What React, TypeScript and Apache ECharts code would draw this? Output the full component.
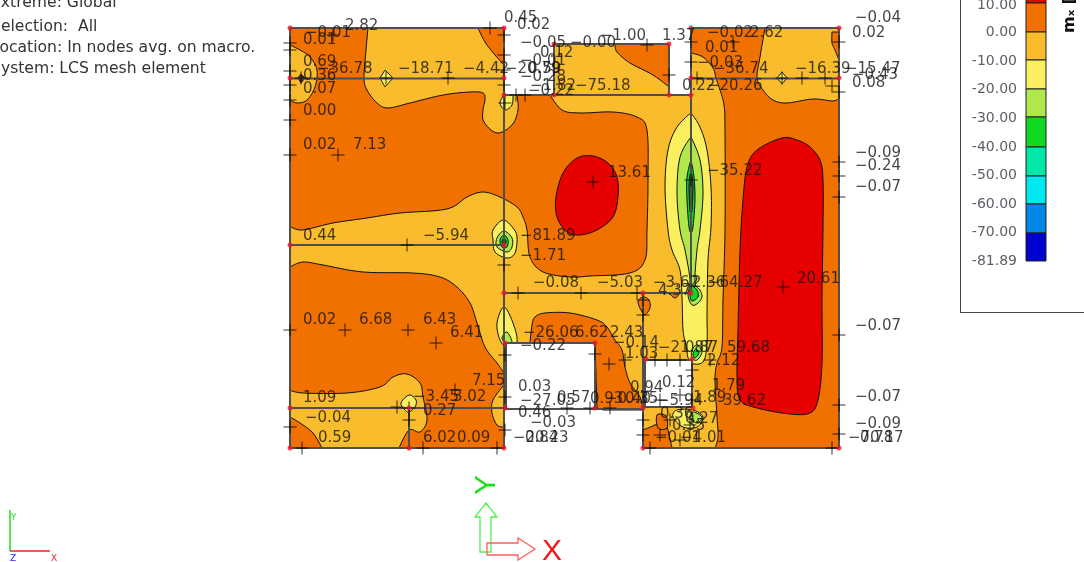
import React, { useEffect, useRef } from "react";
import * as echarts from "echarts";

type Pt = number[]; // [x, y, corner?]

const C = {
  red: "#E60000", dark: "#F07000", light: "#F8BC2C", yellow: "#F9EF5F", lime: "#B0E84C",
  green: "#10D820", teal: "#00E8A8", cyan: "#00E8F0", blue: "#0088E8", navy: "#0000D0",
};

// Structure outline and openings, in drawing units
const structure: Pt[] = [[290,28,1],[504,28,1],[504,95,1],[554,95,1],[554,44,1],[669,44,1],[669,95,1],[691,95,1],[691,28,1],[839,28,1],[839,448,1],[643,448,1],[643,410,1],[504,410,1],[504,448,1],[290,448,1]];
const hole1: Pt[] = [[505,343,1],[595,343,1],[595,408,1],[505,408,1]];
const hole2: Pt[] = [[645,360,1],[692,360,1],[692,406,1],[645,406,1]];

// Iso-value bands
const darkUpperLeft: Pt[] = [[290,28,1],[368,28,1],[366,50],[364,78],[367,90],[377,103],[388,108],[410,103],[443,95],[470,92],[483,93],[485,100],[483,110],[484,122],[497,133],[512,125],[518,110],[517,95,1],[550,95,1],[562,110],[580,113],[613,112],[637,117],[647,130],[648,180],[647,230],[645,260],[630,273],[590,276],[570,277],[543,272],[530,257],[527,230],[523,217],[517,207],[500,197],[483,192],[467,197],[447,209],[400,213],[367,218],[333,223],[302,230],[290,226,1]];
const darkTopRightOfLeft: Pt[] = [[478,28,1],[504,28,1],[504,65,1],[495,55],[485,42]];
const darkTopMiddle: Pt[] = [[615,44,1],[669,44,1],[669,87,1],[653,75],[630,63],[617,52]];
const darkLowerLeft: Pt[] = [[290,267,1],[303,262],[323,265],[363,272],[413,273],[440,277],[457,287],[470,303],[477,323],[485,347],[497,363],[504,373,1],[504,448,1],[399,448,1],[409,430],[420,432],[427,420],[423,397],[420,383],[407,374],[393,377],[380,387],[347,393],[303,393],[290,390,1]];
const darkCorner: Pt[] = [[290,417,1],[300,423],[313,433],[322,448,1],[290,448,1]];
const darkRight: Pt[] = [[691,28,1],[765,28,1],[760,57],[757,78],[763,90],[773,100],[787,103],[813,99],[833,101],[839,98,1],[839,448,1],[715,448,1],[718,437],[717,417],[715,380],[717,363],[722,347],[723,300],[725,230],[725,130],[724,105],[720,90],[716,78],[713,68],[703,57],[691,53,1]];
const darkTopRight: Pt[] = [[832,32,1],[839,32,1],[839,60,1],[835,50],[832,43]];
const darkMiddleLower: Pt[] = [[530,343,1],[532,325],[535,317],[545,313],[570,313],[597,320],[607,327],[615,340],[622,350],[625,367],[630,383],[640,397],[643,410,1],[603,410,1],[597,408,1],[595,343,1]];
const darkLowerRight: Pt[] = [[643,430,1],[655,425],[665,420],[668,430],[672,448,1],[643,448,1]];
const darkNodeSpot: Pt[] = [[643,297],[649,300],[650,308],[645,315],[642,312],[638,302]];
const darkSpot2: Pt[] = [[670,293],[679,293],[675,298]];
const lightPocketLeft: Pt[] = [[290,45,1],[300,50],[310,57],[317,70],[315,87],[307,100],[297,103],[290,100,1]];
const lightPocketInner: Pt[] = [[504,385,1],[493,400],[492,413],[497,425],[504,427,1]];
const redMiddle: Pt[] = [[593,156],[577,158],[563,173],[556,197],[557,217],[567,232],[580,235],[597,230],[613,217],[618,197],[617,177],[608,163]];
const redRight: Pt[] = [[782,138],[757,150],[747,167],[743,200],[740,250],[738,330],[737,377],[740,400],[757,408],[790,414],[810,413],[818,400],[822,363],[822,297],[823,230],[823,180],[820,160],[810,147],[797,140]];
const yellowSpindle: Pt[] = [[691,113,1],[700,127],[707,150],[711,187],[711,227],[708,260],[707,313],[707,343],[703,362],[690,362],[686,345],[683,330],[682,297],[680,270],[672,250],[668,230],[665,187],[668,150],[677,127]];
const limeSpindle: Pt[] = [[691,137,1],[700,160],[703,193],[700,230],[697,250],[695,282],[700,290],[702,297],[698,303],[692,305],[688,295],[690,280],[685,250],[680,230],[677,193],[680,157]];
const greenSpindle: Pt[] = [[691,160,1],[694,177],[695,200],[693,227],[691,233,1],[689,227],[687,200],[687,177]];
const tealSpindle: Pt[] = [[691,170,1],[693,185],[692,212,1],[690,212,1],[689,185]];
const greenLower: Pt[] = [[691,286],[697,290],[698,297],[692,301],[690,295]];
const limeNode: Pt[] = [[697,345],[702,352],[697,360],[692,358],[692,350]];
const greenNode: Pt[] = [[696,349],[699,353],[695,358],[693,354]];
const yellowBlob1: Pt[] = [[503,220],[493,230],[493,240],[495,252],[507,258],[515,253],[517,237],[513,228]];
const limeBlob1: Pt[] = [[504,231],[497,238],[497,247],[507,252],[512,247],[512,238]];
const greenBlob1: Pt[] = [[504,235],[500,240],[502,247],[507,247],[508,240]];
const tealBlob1: Pt[] = [[504,238],[502,242],[504,245],[506,242]];
const yellowBlob2: Pt[] = [[504,307],[497,323],[500,340],[507,347],[517,342],[513,323]];
const limeBlob2: Pt[] = [[507,332],[502,338],[507,345],[512,342]];
const yellowBlob3: Pt[] = [[504,95,1],[500,103],[505,110],[512,105],[513,95,1]];
const yellowBlob4: Pt[] = [[409,395],[401,403],[405,410],[409,412],[415,407],[416,400]];
const diamondA: Pt[] = [[385,70,1],[393,78,1],[385,87,1],[380,78,1]];
const diamondB: Pt[] = [[782,72,1],[787,78,1],[782,84,1],[777,78,1]];
const diamondC: Pt[] = [[301,74,1],[305,78,1],[301,83,1],[298,78,1]];
const yellowBottom: Pt[] = [[677,410],[693,410],[703,417],[697,427],[683,427],[673,417]];
const limeBottom: Pt[] = [[693,412],[702,417],[697,423],[690,418]];
const darkBottomSpot: Pt[] = [[657,415],[666,416],[667,428],[658,428]];

const bands: { pts: Pt[]; color: string }[] = [
  { pts: darkUpperLeft, color: C.dark }, { pts: darkTopRightOfLeft, color: C.dark }, { pts: darkTopMiddle, color: C.dark },
  { pts: darkLowerLeft, color: C.dark }, { pts: darkCorner, color: C.dark }, { pts: darkRight, color: C.dark },
  { pts: darkMiddleLower, color: C.dark }, { pts: darkLowerRight, color: C.dark }, { pts: darkNodeSpot, color: C.dark }, { pts: darkSpot2, color: C.dark },
  { pts: darkBottomSpot, color: C.dark }, { pts: lightPocketLeft, color: C.light }, { pts: lightPocketInner, color: C.light },
  { pts: darkTopRight, color: C.dark }, { pts: redMiddle, color: C.red }, { pts: redRight, color: C.red },
  { pts: yellowSpindle, color: C.yellow }, { pts: limeSpindle, color: C.lime }, { pts: greenSpindle, color: C.green }, { pts: tealSpindle, color: "#2f6f50" },
  { pts: greenLower, color: C.green }, { pts: limeNode, color: C.lime }, { pts: greenNode, color: C.green },
  { pts: yellowBlob1, color: C.yellow }, { pts: limeBlob1, color: C.lime }, { pts: greenBlob1, color: C.green }, { pts: tealBlob1, color: "#206040" },
  { pts: yellowBlob2, color: C.yellow }, { pts: limeBlob2, color: C.lime }, { pts: yellowBlob3, color: C.yellow }, { pts: yellowBlob4, color: C.yellow },
  { pts: diamondA, color: C.yellow }, { pts: diamondB, color: C.yellow }, { pts: diamondC, color: "#702018" },
  { pts: yellowBottom, color: C.yellow }, { pts: limeBottom, color: C.lime },
];

// Mesh lines
const meshLines: Pt[][] = [
  [[290,28],[504,28]],[[691,28],[839,28]],[[554,44],[669,44]],[[290,78.5],[504,78.5]],[[691,78.5],[839,78.5]],
  [[504,95],[691,95]],[[290,245],[504,245]],[[504,293],[691,293]],[[505,343],[595,343]],[[644,360],[693,360]],
  [[290,408],[504,408]],[[505,409],[643,409]],[[644,407],[693,407]],[[290,448],[504,448]],[[643,448],[839,448]],
  [[290,28],[290,448]],[[504,28],[504,448]],[[506,343],[506,409]],[[554,44],[554,95]],[[669,44],[669,95]],
  [[595,343],[595,409]],[[691,28],[691,293]],[[643,293],[643,448]],[[645,360],[645,407]],[[692,360],[692,407]],
  [[409,408],[409,448]],[[839,28],[839,448]],
];

const redNodes: Pt[] = [[290,28],[504,28],[554,44],[669,44],[691,28],[839,28],[290,78],[504,78],[691,78],[839,78],[504,95],[554,95],[669,95],[691,95],[290,245],[504,245],[504,293],[643,293],[691,293],[505,343],[595,343],[646,359],[692,359],[290,408],[409,408],[505,408],[595,408],[643,408],[693,408],[290,448],[409,448],[504,448],[643,448],[839,448]];

const crosses: Pt[] = [[333,35],[290,43],[290,50],[290,71],[290,85],[290,100],[290,120],[290,155],[338,155],[386,78],[448,78],[490,28],[301,78],[504,35],[504,55],[504,70],[504,85],[516,95],[525,95],[647,45],[669,75],[691,42],[691,62],[697,78],[733,42],[782,78],[802,78],[825,78],[832,86],[839,42],[839,92],[593,182],[691,180],[839,162],[839,176],[839,197],[505,103],[407,245],[504,265],[518,293],[581,293],[637,293],[290,330],[345,330],[408,330],[436,343],[505,355],[505,397],[505,430],[397,407],[409,420],[455,390],[409,408],[290,427],[302,448],[423,448],[497,448],[643,300],[643,315],[609,364],[655,360],[667,360],[680,360],[692,370],[783,287],[839,335],[839,405],[839,434],[650,448],[832,448],[643,435],[643,420],[567,408],[590,408],[610,408],[660,400],[680,395],[692,400],[670,420],[690,425],[660,435],[680,440],[710,360],[625,360],[595,354]];

const valueLabels: (number | string)[][] = [
  [345,25,"2.82"],[305,32,"−0.01"],[303,39,"0.01"],[303,61,"0.69"],[317,68,"−36.78"],[303,75,"0.36"],[303,88,"0.07"],[303,110,"0.00"],[303,144,"0.02"],[353,144,"7.13"],[398,68,"−18.71"],[463,68,"−4.42"],[303,235,"0.44"],[423,235,"−5.94"],
  [504,17,"0.45"],[517,24,"0.02"],[520,42,"−0.05"],[570,42,"−0.00"],[600,35,"−1.00"],[662,35,"1.37"],[707,32,"−0.02"],[750,32,"2.62"],[705,47,"0.01"],[697,62,"−0.03"],[713,68,"−36.74"],[795,68,"−16.39"],[845,68,"−15.47"],[852,74,"−0.43"],[852,82,"0.08"],[682,85,"0.22"],[707,85,"−20.26"],[575,85,"−75.18"],[855,17,"−0.04"],[852,32,"0.02"],[608,172,"13.61"],[707,170,"−35.22"],[855,152,"−0.09"],[855,165,"−0.24"],[855,186,"−0.07"],[520,235,"−81.89"],
  [540,52,"0.12"],[520,60,"−0.01"],[505,68,"−20.79"],[528,68,"0.59"],[520,76,"−0.28"],[530,85,"−1.82"],[528,90,"−0.22"],
  [520,255,"−1.71"],[533,282,"−0.08"],[597,282,"−5.03"],[653,282,"−3.62"],[692,282,"2.36"],[707,282,"−64.27"],[797,278,"20.61"],[658,290,"4.37"],[303,319,"0.02"],[359,319,"6.68"],[423,319,"6.43"],[450,332,"6.41"],[523,332,"−26.06"],[575,332,"6.62"],[610,332,"2.43"],[613,342,"−0.14"],[520,345,"−0.22"],[625,353,"1.03"],[658,347,"−21.87"],[685,347,"0.87"],[727,347,"59.68"],[707,360,"2.12"],[662,382,"0.12"],[712,385,"1.79"],[630,387,"0.94"],[472,380,"7.15"],[518,386,"0.03"],[303,397,"1.09"],[413,396,"−3.45"],[453,396,"3.02"],[520,400,"−27.05"],[557,397,"0.57"],[590,398,"0.93"],[605,398,"−0.40"],[625,398,"0.35"],[657,400,"−5.94"],[693,397,"1.89"],[723,400,"39.62"],[423,410,"0.27"],[305,417,"−0.04"],[518,412,"0.46"],[530,422,"−0.03"],[318,437,"0.59"],[423,437,"6.02"],[457,437,"0.09"],[513,437,"−20.23"],[525,437,"0.84"],[855,325,"−0.07"],[855,396,"−0.07"],[855,423,"−0.09"],[848,437,"−70.17"],[860,437,"0.78"],[660,413,"0.36"],[685,418,"0.27"],[672,425,"0.35"],[655,437,"−0.01"],[680,437,"−4.01"],
];

// Colour legend
const legendLevels = ["10.00","0.00","-10.00","-20.00","-30.00","-40.00","-50.00","-60.00","-70.00","-81.89"];
const legendY = [4,31,60,88,117,146,174,203,231,260];
const legendColors = [C.red, C.dark, C.light, C.yellow, C.lime, C.green, C.teal, C.cyan, C.blue, C.navy];
const legendEdges = [-6,3,32,60,89,117,147,176,204,233,261];
const headerLines = ["Extreme: Global","Selection:  All","Location: In nodes avg. on macro.","System: LCS mesh element"];
const headerY = [2,26,47,68];

const FONT = "DejaVu Sans";

function spline(pts: Pt[]): number[][] {
  const out: number[][] = [];
  const n = pts.length;
  const tan = (i: number) => {
    const p = pts[i];
    if (p[2]) return [0, 0];
    const a = pts[(i - 1 + n) % n], b = pts[(i + 1) % n];
    return [(b[0] - a[0]) * 0.5, (b[1] - a[1]) * 0.5];
  };
  for (let i = 0; i < n; i++) {
    const p = pts[i], q = pts[(i + 1) % n], m0 = tan(i), m1 = tan((i + 1) % n);
    for (let s = 0; s < 6; s++) {
      const t = s / 6, t2 = t * t, t3 = t2 * t;
      const h00 = 2 * t3 - 3 * t2 + 1, h10 = t3 - 2 * t2 + t, h01 = -2 * t3 + 3 * t2, h11 = t3 - t2;
      out.push([h00 * p[0] + h10 * m0[0] + h01 * q[0] + h11 * m1[0], h00 * p[1] + h10 * m0[1] + h01 * q[1] + h11 * m1[1]]);
    }
  }
  return out;
}

export default function App() {
  const ref = useRef<HTMLDivElement>(null);
  useEffect(() => {
    const chart = echarts.init(ref.current!, undefined, { renderer: "svg" });
    const poly = (list: { pts: Pt[]; color: string; stroke?: string }[], z: number) => ({
      type: "custom", z, silent: true, clip: false, coordinateSystem: "cartesian2d",
      data: list.map((b) => [b.pts[0][0], b.pts[0][1]]),
      renderItem: (p: any, api: any) => {
        const b = list[p.dataIndex];
        return {
          type: "polygon",
          shape: { points: spline(b.pts).map((q) => api.coord(q)) },
          style: { fill: b.color, stroke: b.stroke === undefined ? "#101010" : b.stroke, lineWidth: 1 },
        };
      },
    });
    chart.setOption({
      animation: false,
      grid: { left: 0, right: 0, top: 0, bottom: 0 },
      xAxis: { type: "value", min: 0, max: 1084, show: false },
      yAxis: { type: "value", min: 0, max: 562, inverse: true, show: false },
      series: [
        poly([{ pts: structure, color: C.light, stroke: "none" }], 1),
        poly(bands, 2),
        poly([{ pts: hole1, color: "#ffffff", stroke: "none" }, { pts: hole2, color: "#ffffff", stroke: "none" }], 3),
        {
          type: "custom", z: 4, silent: true, clip: false, data: meshLines.map((l) => l[0]),
          renderItem: (p: any, api: any) => ({
            type: "polyline",
            shape: { points: meshLines[p.dataIndex].map((q) => api.coord(q)) },
            style: { stroke: "#4f4f4f", lineWidth: 2, fill: "none" },
          }),
        },
        {
          type: "custom", z: 1, silent: true, clip: false, data: legendColors.map((_, i) => [1026, legendEdges[i]]),
          renderItem: (p: any, api: any) => {
            const i = p.dataIndex;
            const a = api.coord([1026, legendEdges[i]]), b = api.coord([1046, legendEdges[i + 1]]);
            return { type: "rect", shape: { x: a[0], y: a[1], width: b[0] - a[0], height: b[1] - a[1] }, style: { fill: legendColors[i], stroke: "#202020", lineWidth: 1 } };
          },
        },
        {
          type: "scatter", z: 5, silent: true, clip: false, data: crosses,
          symbol: "path://M6 0h1v6h6v1H7v6H6V7H0V6h6z", symbolSize: 13, itemStyle: { color: "#000000" },
        },
        {
          type: "scatter", z: 6, silent: true, clip: false, data: redNodes, symbol: "circle", symbolSize: 5, itemStyle: { color: "#f01030" },
        },
        {
          type: "scatter", z: 7, silent: true, clip: false, data: valueLabels, symbolSize: 0,
          label: { show: true, position: "right", distance: 0, color: "#141414", fontFamily: FONT, fontSize: 15, formatter: (p: any) => p.value[2] },
        },
        {
          type: "scatter", z: 7, silent: true, clip: false, data: legendLevels.map((t, i) => [1017, legendY[i], t]), symbolSize: 0,
          label: { show: true, position: "left", distance: 0, color: "#333340", fontFamily: FONT, fontSize: 14, formatter: (p: any) => p.value[2] },
        },
      ],
      graphic: [
        ...headerLines.map((t, i) => ({ type: "text", x: -9, y: headerY[i], z: 10, style: { text: t, fill: "#333333", font: `15.6px "${FONT}"`, textVerticalAlign: "middle" } })),
        { type: "line", shape: { x1: 960.5, y1: 0, x2: 960.5, y2: 312 }, style: { stroke: "#444", lineWidth: 1 } },
        { type: "line", shape: { x1: 960, y1: 312.5, x2: 1084, y2: 312.5 }, style: { stroke: "#444", lineWidth: 1 } },
        { type: "text", x: 1068, y: 33, rotation: Math.PI / 2, z: 10, style: { text: "mₓ [", fill: "#111", font: `bold 16px "${FONT}"`, textAlign: "left", textVerticalAlign: "middle" } },
        { type: "line", shape: { x1: 10, y1: 510, x2: 10, y2: 551 }, style: { stroke: "#22dd22", lineWidth: 1.5 } },
        { type: "line", shape: { x1: 10, y1: 551, x2: 50, y2: 551 }, style: { stroke: "#ee2222", lineWidth: 1.5 } },
        { type: "text", x: 11, y: 512, style: { text: "Y", fill: "#33dd33", font: `9px "${FONT}"` } },
        { type: "text", x: 10, y: 553, style: { text: "Z", fill: "#2222ee", font: `9px "${FONT}"` } },
        { type: "text", x: 51, y: 553, style: { text: "X", fill: "#ee2222", font: `9px "${FONT}"` } },
        { type: "polygon", shape: { points: [[486,503],[497,517],[491,517],[491,552],[480,552],[480,517],[475,517]] }, style: { fill: "none", stroke: "#55ee55", lineWidth: 1.3 } },
        { type: "polygon", shape: { points: [[487,543],[518,543],[518,538],[535,549],[518,560],[518,555],[487,555]] }, style: { fill: "none", stroke: "#ff6060", lineWidth: 1.3 } },
        { type: "text", x: 552, y: 549, style: { text: "X", fill: "#f01818", font: `30px "Liberation Sans"`, textAlign: "center", textVerticalAlign: "middle" } },
        { type: "text", x: 484, y: 485, rotation: Math.PI / 2, style: { text: "Y", fill: "#18e018", font: `30px "Liberation Sans"`, textAlign: "center", textVerticalAlign: "middle" } },
      ],
    });
    return () => chart.dispose();
  }, []);
  return <div ref={ref} style={{ position: "fixed", left: 0, top: 0, width: 1084, height: 562, background: "#fff", filter: "blur(0.3px)" }} />;
}
